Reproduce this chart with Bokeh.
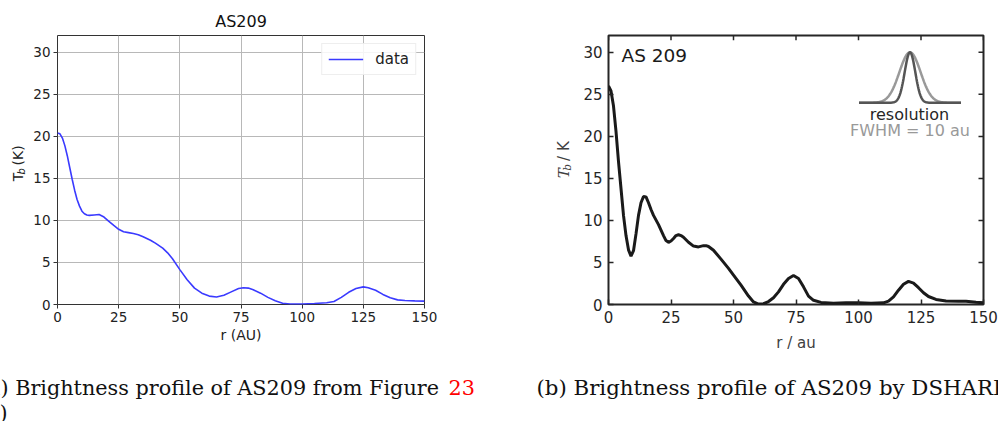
import numpy as np
from math import pi
from bokeh.plotting import figure
from bokeh.models import Range1d, FixedTicker, Label
from bokeh.layouts import column, row
from bokeh.embed import file_html
from bokeh.resources import INLINE
from bokeh.core.properties import value

# ---------------- data ----------------
r_left = [0, 1, 2, 3, 4, 5, 6, 7, 8, 9, 10, 11, 12, 13, 15, 17, 19, 21, 23, 25, 27, 29, 31,
          33, 35, 38, 40, 43, 45, 47, 50, 53, 56, 59, 62, 65, 68, 71, 74, 76, 78, 80, 83, 86,
          89, 92, 95, 100, 105, 110, 113, 116, 119, 122, 125, 127, 130, 133, 136, 139, 142,
          146, 150]
tb_left = [20.4, 20.3, 19.8, 18.9, 17.7, 16.3, 14.9, 13.6, 12.5, 11.7, 11.1, 10.8, 10.65,
           10.6, 10.65, 10.7, 10.4, 9.9, 9.4, 8.95, 8.65, 8.55, 8.45, 8.3, 8.05, 7.65, 7.3,
           6.7, 6.15, 5.45, 4.15, 2.95, 1.95, 1.35, 1.0, 0.9, 1.1, 1.5, 1.9, 2.0, 1.95, 1.75,
           1.35, 0.85, 0.45, 0.15, 0.05, 0.05, 0.12, 0.2, 0.35, 0.85, 1.45, 1.9, 2.1, 2.0,
           1.7, 1.2, 0.8, 0.55, 0.47, 0.43, 0.4]

r_right = [0, 1, 2, 3, 4, 5, 6, 7, 8, 9, 10, 11, 12, 13, 14, 15, 16, 17, 18, 20, 22, 23, 24,
           25, 26, 27, 28, 29, 30, 32, 34, 36, 38, 39, 40, 42, 45, 48, 50, 53, 56, 58, 60, 62,
           64, 66, 68, 70, 72, 74, 76, 78, 80, 82, 85, 90, 95, 100, 105, 110, 112, 114, 116,
           118, 120, 122, 124, 126, 128, 131, 135, 140, 143, 147, 150]
tb_right = [26.0, 25.4, 23.6, 20.6, 17.0, 13.8, 10.6, 8.2, 6.5, 5.75, 6.4, 8.4, 10.6, 12.1,
            12.85, 12.8, 12.1, 11.3, 10.6, 9.5, 8.2, 7.6, 7.4, 7.55, 7.85, 8.2, 8.3, 8.2, 8.0,
            7.4, 6.95, 6.85, 7.0, 7.0, 6.9, 6.45, 5.4, 4.3, 3.5, 2.3, 1.0, 0.3, 0.05, 0.1, 0.35,
            0.8, 1.5, 2.4, 3.1, 3.45, 3.1, 2.1, 1.0, 0.5, 0.25, 0.15, 0.2, 0.22, 0.15, 0.2, 0.4,
            0.9, 1.7, 2.4, 2.75, 2.55, 2.0, 1.4, 0.95, 0.6, 0.42, 0.38, 0.4, 0.28, 0.2]

x_ticks = [0, 25, 50, 75, 100, 125, 150]
y_ticks = [0, 5, 10, 15, 20, 25, 30]
x_max, y_max = 150, 32

# resolution inset (beam shapes)
res_center = 120.6
res_base = 24.0
res_amp = 6.0
res_halfspan = 20.4
fwhm_wide = 10.0
fwhm_narrow = 5.0

caption_a = "(a) Brightness profile of AS209 from Figure"
caption_a_ref = "23"
caption_b = "(b) Brightness profile of AS209 by DSHARP"

PANEL_H = 356
CAP_H = 421 - PANEL_H
CAP_OFF = PANEL_H - 350


def blank(width, height, xr, yr):
    f = figure(width=width, height=height, x_range=xr, y_range=yr,
               x_axis_type=None, y_axis_type=None, output_backend="svg",
               toolbar_location=None, min_border=0, min_border_left=0,
               min_border_right=0, min_border_top=0, min_border_bottom=0)
    f.outline_line_color = None
    return f


# ---------------- left y-label strip ----------------
yl1 = blank(30, PANEL_H, Range1d(0, 30), Range1d(0, PANEL_H))
yl1.text(x=[17, 20.5, 17], y=[PANEL_H - 193, PANEL_H - 184, PANEL_H - 172],
         text=["T", "b", "(K)"], angle=pi / 2, text_align="left", text_baseline="middle",
         text_font=value("DejaVu Sans"), text_font_size=["14px", "10px", "14px"],
         text_font_style=["normal", "italic", "normal"], text_color="#222222")

# ---------------- left panel ----------------
p1 = figure(width=470, height=PANEL_H, x_range=Range1d(0, x_max), y_range=Range1d(0, y_max),
            output_backend="svg", toolbar_location=None,
            min_border_left=26, min_border_right=76, min_border_top=35,
            min_border_bottom=PANEL_H - 304)
p1.title.text = "AS209"
p1.title.align = "center"
p1.title.text_font = "DejaVu Sans"
p1.title.text_font_size = "16px"
p1.title.text_font_style = "normal"
p1.title.text_color = "#111111"
p1.outline_line_color = "#333333"
p1.outline_line_width = 1
p1.outline_line_alpha = 1

for ax, tk in ((p1.xaxis, x_ticks), (p1.yaxis, y_ticks)):
    ax.ticker = FixedTicker(ticks=tk)
    ax.major_label_text_font = "DejaVu Sans"
    ax.major_label_text_font_size = "13.5px"
    ax.major_label_text_color = "#222222"
    ax.major_tick_out = 4
    ax.major_tick_in = 0
    ax.major_tick_line_color = "#333333"
    ax.minor_tick_line_color = None
    ax.axis_line_color = None
    ax.major_label_standoff = 3
p1.xaxis.axis_label = "r (AU)"
p1.xaxis.axis_label_text_font = "DejaVu Sans"
p1.xaxis.axis_label_text_font_size = "14px"
p1.xaxis.axis_label_text_font_style = "normal"
p1.xaxis.axis_label_text_color = "#222222"
p1.xaxis.axis_label_standoff = 2

p1.xgrid.ticker = FixedTicker(ticks=x_ticks)
p1.ygrid.ticker = FixedTicker(ticks=y_ticks)
p1.grid.grid_line_color = "#b8b8b8"
p1.grid.grid_line_width = 1

p1.line(r_left, tb_left, line_color="#3a3aff", line_width=1.6, legend_label="data")
lg = p1.legend[0]
lg.location = "top_right"
lg.margin = 8
lg.padding = 6
lg.glyph_width = 35
lg.glyph_height = 18
lg.label_height = 18
lg.label_standoff = 12
lg.label_text_font = "DejaVu Sans"
lg.label_text_font_size = "15px"
lg.label_text_color = "#222222"
lg.border_line_color = "#dddddd"
lg.border_line_width = 1
lg.background_fill_alpha = 0.85

# ---------------- right y-label strip ----------------
yl2 = blank(75, PANEL_H, Range1d(0, 75), Range1d(0, PANEL_H))
yl2.text(x=[63, 66.5, 63], y=[PANEL_H - 189, PANEL_H - 179, PANEL_H - 166],
         text=["T", "b", "/ K"], angle=pi / 2, text_align="left", text_baseline="middle",
         text_font=["DejaVu Serif", "DejaVu Serif", "DejaVu Sans"],
         text_font_size=["15px", "10.5px", "15px"],
         text_font_style=["italic", "italic", "normal"], text_color="#404040")

# ---------------- right panel ----------------
R_PX, R_PY = 375 / x_max, 279 / y_max
TICK_LEN = 5

p2 = figure(width=423, height=PANEL_H, x_range=Range1d(0, x_max), y_range=Range1d(0, y_max),
            output_backend="svg", toolbar_location=None,
            min_border_left=33, min_border_right=15, min_border_top=28,
            min_border_bottom=PANEL_H - 307)
p2.grid.visible = False
p2.outline_line_color = "#262626"
p2.outline_line_width = 2
p2.outline_line_alpha = 1

for ax, tk in ((p2.xaxis, x_ticks), (p2.yaxis, y_ticks)):
    ax.ticker = FixedTicker(ticks=tk)
    ax.major_label_text_font = "DejaVu Sans"
    ax.major_label_text_font_size = "15px"
    ax.major_label_text_color = "#262626"
    ax.major_tick_out = 0
    ax.major_tick_in = TICK_LEN
    ax.major_tick_line_color = "#262626"
    ax.major_tick_line_width = 1.5
    ax.minor_tick_line_color = None
    ax.axis_line_color = None
    ax.major_label_standoff = 6
p2.xaxis.axis_label = "r / au"
p2.xaxis.axis_label_text_font = "DejaVu Sans"
p2.xaxis.axis_label_text_font_size = "15px"
p2.xaxis.axis_label_text_font_style = "normal"
p2.xaxis.axis_label_text_color = "#404040"
p2.xaxis.axis_label_standoff = 8

# inward ticks on the top and right edges, from the same tick lists
p2.segment(x0=x_ticks, y0=[y_max] * len(x_ticks), x1=x_ticks,
           y1=[y_max - TICK_LEN / R_PY] * len(x_ticks), line_color="#262626", line_width=1.5)
p2.segment(x0=[x_max] * len(y_ticks), y0=y_ticks, x1=[x_max - TICK_LEN / R_PX] * len(y_ticks),
           y1=y_ticks, line_color="#262626", line_width=1.5)

p2.line(r_right, tb_right, line_color="#1a1a1a", line_width=3)

bx = np.linspace(res_center - res_halfspan, res_center + res_halfspan, 200)
wide = res_base + res_amp * np.exp(-4 * np.log(2) * (bx - res_center) ** 2 / fwhm_wide ** 2)
narrow = res_base + res_amp * np.exp(-4 * np.log(2) * (bx - res_center) ** 2 / fwhm_narrow ** 2)
p2.line(bx, wide, line_color="#999999", line_width=2.5)
p2.line(bx, narrow, line_color="#555555", line_width=2.5)


def R(cx, cy):
    return (cx - 608) / R_PX, (307 - cy) / R_PY


x, y = R(621, 49)
p2.add_layout(Label(x=x, y=y, text="AS 209", text_font="DejaVu Sans", text_font_size="18.5px",
                    text_align="left", text_baseline="middle", text_color="#1a1a1a"))
x, y = R(909, 110)
p2.add_layout(Label(x=x, y=y, text="resolution", text_font="DejaVu Sans", text_font_size="16px",
                    text_align="center", text_baseline="middle", text_color="#262626"))
x, y = R(909.5, 127)
p2.add_layout(Label(x=x, y=y, text="FWHM = 10 au", text_font="DejaVu Sans",
                    text_font_size="16px", text_align="center", text_baseline="middle",
                    text_color="#999999"))

# ---------------- captions ----------------
p3 = blank(998, CAP_H, Range1d(0, 998), Range1d(CAP_H, 0))
p3.text(x=[-20.5, -1], y=[37 - CAP_OFF, 62 - CAP_OFF], text=[caption_a, ")"],
        text_font=value("DejaVu Serif"), text_font_size="20.75px", text_baseline="alphabetic",
        text_align="left", text_color="#111111")
p3.text(x=[448], y=[37 - CAP_OFF], text=[caption_a_ref], text_font=value("DejaVu Serif"),
        text_font_size="20.75px", text_baseline="alphabetic", text_align="left",
        text_color="#ff0000")
p3.text(x=[536], y=[37 - CAP_OFF], text=[caption_b], text_font=value("DejaVu Serif"),
        text_font_size="21.3px", text_baseline="alphabetic", text_align="left",
        text_color="#111111")

layout = column(row(yl1, p1, yl2, p2, spacing=0), p3, spacing=0)
open("out.html", "w").write(file_html(layout, INLINE))
